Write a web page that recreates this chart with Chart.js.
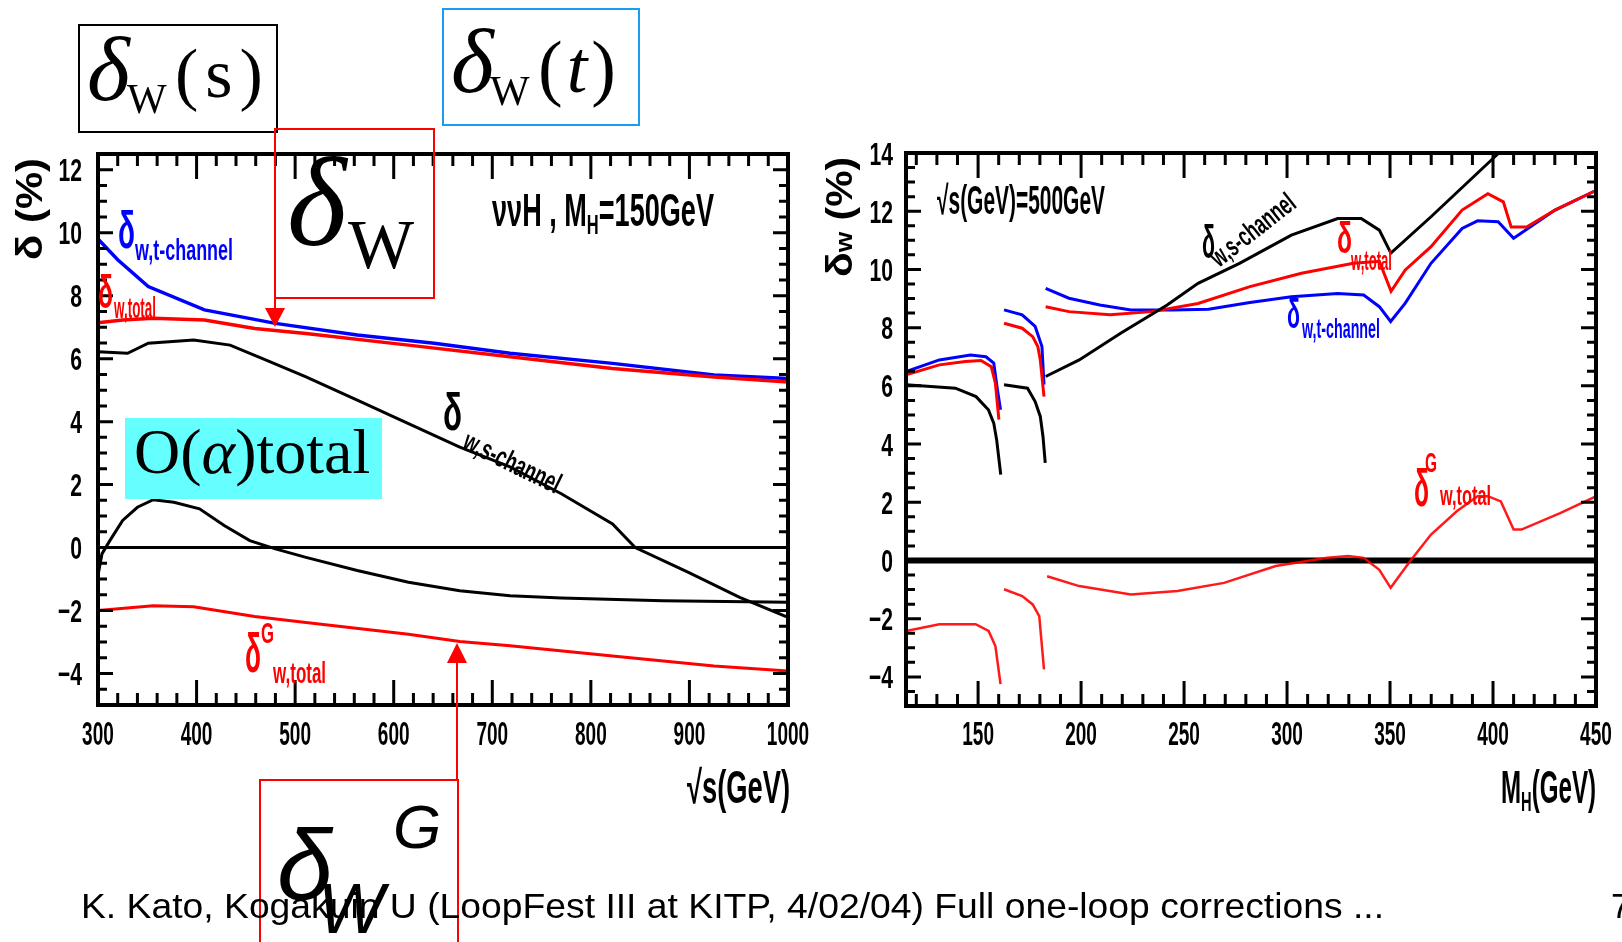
<!DOCTYPE html>
<html>
<head>
<meta charset="utf-8">
<title>delta_W corrections</title>
<script src="https://cdn.jsdelivr.net/npm/chart.js@4.4.1/dist/chart.umd.min.js"></script>
<style>
  html, body { margin: 0; padding: 0; background: #fff; }
  #slide { position: relative; width: 1622px; height: 942px; overflow: hidden; background: #fff; }
  #slide canvas { position: absolute; left: 0; top: 0; }
  .box { position: absolute; box-sizing: border-box; }
  .txt { position: absolute; white-space: nowrap; line-height: 1; color: #000; }
  .serif { font-family: "Liberation Serif", "Times New Roman", serif; }
  .sans { font-family: "Liberation Sans", Arial, sans-serif; }
  .tri-down { position: absolute; width: 0; height: 0; border-left: 10px solid transparent; border-right: 10px solid transparent; border-top: 19px solid #ff0000; }
  .tri-up { position: absolute; width: 0; height: 0; border-left: 10px solid transparent; border-right: 10px solid transparent; border-bottom: 20px solid #ff0000; }
</style>
</head>
<body>
<div id="slide">
  <canvas id="leftChart" width="1622" height="942"></canvas>
  <canvas id="rightChart" width="1622" height="942"></canvas>

  <div class="box" style="left:78px;top:24px;width:200px;height:109px;border:2px solid #000"></div>
  <div class="box" style="left:442px;top:8px;width:198px;height:118px;border:2px solid #1a9df0"></div>
  <div class="box" style="left:274px;top:128px;width:161px;height:171px;border:2px solid #ff0000"></div>
  <div class="box" style="left:274px;top:297px;width:2px;height:13px;background:#ff0000"></div>
  <div class="tri-down" style="left:265px;top:308px"></div>
  <div class="box" style="left:125px;top:418px;width:257px;height:81px;background:#66ffff"></div>
  <div class="box" style="left:259px;top:779px;width:200px;height:200px;border:2px solid #ff0000;border-bottom:none"></div>
  <div class="box" style="left:456px;top:660px;width:2px;height:120px;background:#ff0000"></div>
  <div class="tri-up" style="left:447px;top:643px"></div>
</div>

<script>
// left panel: nu nubar H, MH = 150 GeV, versus sqrt(s)
const leftXTicks = [300, 400, 500, 600, 700, 800, 900, 1000];
const leftYTicks = [-4, -2, 0, 2, 4, 6, 8, 10, 12];

const leftTchanX = [300, 320, 351, 408, 480, 563, 641, 718, 822, 925, 1000];
const leftTchanY = [9.8, 9.14, 8.29, 7.55, 7.12, 6.75, 6.49, 6.17, 5.85, 5.48, 5.37];

const leftTotalX = [300, 325, 356, 408, 459, 511, 615, 718, 822, 925, 1000];
const leftTotalY = [7.14, 7.23, 7.28, 7.23, 6.96, 6.80, 6.43, 6.06, 5.69, 5.42, 5.26];

const leftSchanX = [300, 330, 351, 397, 434, 470, 511, 563, 615, 667, 718, 770, 822, 845, 899, 951, 1000];
const leftSchanY = [6.22, 6.17, 6.49, 6.59, 6.43, 5.96, 5.42, 4.68, 3.94, 3.19, 2.56, 1.71, 0.75, 0.0, -0.79, -1.58, -2.22];

const leftAlphaX = [300, 304, 312, 325, 340, 356, 377, 403, 428, 454, 480, 511, 563, 615, 667, 718, 770, 873, 1000];
const leftAlphaY = [-0.89, -0.2, 0.22, 0.86, 1.28, 1.52, 1.44, 1.23, 0.70, 0.22, -0.04, -0.31, -0.73, -1.10, -1.37, -1.53, -1.60, -1.69, -1.74];

const leftGX = [300, 356, 397, 459, 511, 615, 667, 718, 822, 925, 1000];
const leftGY = [-2.0, -1.85, -1.88, -2.19, -2.38, -2.75, -2.98, -3.12, -3.44, -3.76, -3.92];

// right panel: sqrt(s) = 500 GeV, versus MH (null = gap at the thresholds)
const rightXTicks = [150, 200, 250, 300, 350, 400, 450];
const rightYTicks = [-4, -2, 0, 2, 4, 6, 8, 10, 12, 14];

const rightSchanX = [115, 139, 149, 155, 157.6, 159, 161, 161.8, 162.6, 174, 177.7, 180.2, 181.5, 182.6, 182.7, 182.8, 199.1, 219.2, 241.8, 256.8, 276.9, 302.1, 324.6, 336, 344.8, 350.4, 369.9, 400, 405];
const rightSchanY = [6.04, 5.92, 5.63, 5.18, 4.72, 4.15, 2.95, null, 6.04, 5.92, 5.46, 4.95, 4.26, 3.35, null, 6.32, 6.89, 7.81, 8.78, 9.52, 10.21, 11.18, 11.75, 11.75, 11.35, 10.56, 11.81, 13.81, 14.15];

const rightTotalX = [115, 131.2, 143.8, 151.4, 156.4, 158.4, 160.1, 161.3, 162.6, 171.4, 176.5, 179, 180.2, 182, 182.4, 182.8, 194.1, 214.1, 234.2, 256.8, 282, 307, 332.2, 344.8, 350.5, 357.4, 369.9, 385, 397.5, 405, 408.8, 416.3, 430.1, 450.2];
const rightTotalY = [6.38, 6.72, 6.84, 6.87, 6.66, 6.09, 4.84, null, 8.15, 7.98, 7.69, 7.35, 6.89, 5.63, null, 8.72, 8.55, 8.44, 8.55, 8.83, 9.41, 9.87, 10.21, 10.28, 9.25, 9.98, 10.78, 12.04, 12.6, 12.32, 11.46, 11.46, 12.04, 12.72];

const rightTchanX = [115, 131.2, 146.3, 153.8, 157.6, 159.4, 160.9, 161.7, 162.6, 171.4, 177.7, 181, 182, 182.4, 182.8, 194.1, 209.1, 224.2, 244.3, 261.9, 282, 302.1, 324.6, 337.2, 344.8, 350.3, 357.4, 369.9, 385, 392.5, 402.5, 410, 430.1, 450.2];
const rightTchanY = [6.49, 6.89, 7.06, 7.0, 6.78, 5.86, 5.18, null, 8.61, 8.44, 8.04, 7.35, 6.04, null, 9.35, 9.01, 8.78, 8.61, 8.61, 8.63, 8.86, 9.06, 9.17, 9.12, 8.72, 8.21, 8.84, 10.21, 11.41, 11.67, 11.64, 11.07, 12.04, 12.72];

const rightGX = [115, 131.2, 148.8, 155.1, 158.4, 160.9, 161.7, 162.6, 171.4, 176.5, 179.7, 182, 182.7, 183.5, 199.1, 224.2, 246.8, 269.4, 294.5, 319.6, 329.7, 337.2, 344.8, 350.3, 359.8, 369.9, 382.4, 392.5, 397.5, 403.8, 410, 413.8, 432.6, 450.2];
const rightGY = [-2.42, -2.19, -2.19, -2.42, -2.94, -4.25, null, -0.99, -1.22, -1.51, -1.91, -3.74, null, -0.54, -0.88, -1.17, -1.05, -0.77, -0.19, 0.09, 0.15, 0.09, -0.32, -0.94, -0.02, 0.89, 1.69, 2.21, 2.21, 2.03, 1.06, 1.06, 1.63, 2.21];

const BLUE = '#0000ff', RED = '#ff0000', BLACK = '#000000';
const FONT = '"Liberation Sans", Arial, sans-serif';

const toPoints = (xs, ys) => xs.map((x, i) => ({ x: x, y: ys[i] }));

// draw a run of text pieces [text, size, dy], squeezed sideways like the scanned plot lettering
function drawParts(ctx, parts, x, y, o) {
  o = o || {};
  ctx.save();
  let total = 0;
  const widths = parts.map(p => {
    ctx.font = 'bold ' + p[1] + 'px ' + FONT;
    const w = ctx.measureText(p[0]).width;
    total += w;
    return w;
  });
  const sx = o.width ? o.width / total : (o.sx || 1);
  ctx.translate(x, y);
  if (o.angle) ctx.rotate(o.angle * Math.PI / 180);
  if (o.align === 'right') ctx.translate(-total * sx, 0);
  if (o.align === 'center') ctx.translate(-total * sx / 2, 0);
  ctx.scale(sx, 1);
  ctx.fillStyle = o.color || BLACK;
  ctx.textAlign = 'left';
  ctx.textBaseline = 'alphabetic';
  let cx = 0;
  parts.forEach((p, i) => {
    ctx.font = 'bold ' + p[1] + 'px ' + FONT;
    ctx.fillText(p[0], cx, p[2] || 0);
    cx += widths[i];
  });
  ctx.restore();
}

function steps(min, max, step) {
  const out = [];
  for (let v = Math.ceil(min / step - 1e-9) * step; v <= max + 1e-9; v += step) out.push(Math.round(v * 1000) / 1000);
  return out;
}
const onStep = (v, s) => Math.abs(v / s - Math.round(v / s)) < 1e-6;

function framePlugin(o) {
  return {
    id: 'frame_' + o.name,
    beforeDatasetsDraw(chart) {
      const { ctx, chartArea: a, scales } = chart;
      const py = scales.y.getPixelForValue(0);
      ctx.save();
      ctx.strokeStyle = BLACK;
      ctx.lineWidth = o.zeroWidth;
      ctx.beginPath();
      ctx.moveTo(a.left, py);
      ctx.lineTo(a.right, py);
      ctx.stroke();
      ctx.restore();
    },
    afterDatasetsDraw(chart) {
      const { ctx, chartArea: a, scales } = chart;
      const xs = scales.x, ys = scales.y;
      ctx.save();
      ctx.strokeStyle = BLACK;
      ctx.lineWidth = 3;
      ctx.beginPath();
      steps(xs.min, xs.max, o.xMinor).forEach(v => {
        const px = xs.getPixelForValue(v);
        const len = onStep(v, o.xMajor) ? 25 : 12;
        ctx.moveTo(px, a.bottom); ctx.lineTo(px, a.bottom - len);
        ctx.moveTo(px, a.top); ctx.lineTo(px, a.top + len);
      });
      steps(ys.min, ys.max, o.yMinor).forEach(v => {
        const py = ys.getPixelForValue(v);
        const len = onStep(v, o.yMajor) ? 15 : 9;
        ctx.moveTo(a.left, py); ctx.lineTo(a.left + len, py);
        ctx.moveTo(a.right, py); ctx.lineTo(a.right - len, py);
      });
      ctx.stroke();
      ctx.lineWidth = 4;
      ctx.strokeRect(a.left, a.top, a.right - a.left, a.bottom - a.top);
      ctx.restore();

      o.xTicks.forEach(v => {
        drawParts(ctx, [[String(v), 34]], xs.getPixelForValue(v), 745, { align: 'center', sx: 0.56 });
      });
      o.yTicks.forEach(v => {
        const t = v < 0 ? '\u2212' + Math.abs(v) : String(v);
        drawParts(ctx, [[t, 32]], o.yLabelRight, ys.getPixelForValue(v) + 11.5, { align: 'right', sx: 0.66 });
      });
      o.labels.forEach(l => drawParts(ctx, l.parts, l.x, l.y, l));
    }
  };
}

function makeChart(id, o) {
  return new Chart(document.getElementById(id), {
    type: 'line',
    data: {
      datasets: o.series.map(s => ({
        data: toPoints(s.x, s.y),
        borderColor: s.color,
        borderWidth: s.width,
        pointRadius: 0,
        tension: 0,
        spanGaps: false,
        fill: false
      }))
    },
    options: {
      responsive: false,
      animation: false,
      events: [],
      layout: { padding: { left: 0, top: o.top, right: o.right, bottom: 0 } },
      plugins: { legend: { display: false }, tooltip: { enabled: false } },
      scales: {
        x: {
          type: 'linear', min: o.xMin, max: o.xMax,
          ticks: { display: false }, grid: { display: false }, border: { display: false },
          afterFit: s => { s.height = o.bottomH; }
        },
        y: {
          type: 'linear', min: o.yMin, max: o.yMax,
          ticks: { display: false }, grid: { display: false }, border: { display: false },
          afterFit: s => { s.width = o.leftW; }
        }
      }
    },
    plugins: [framePlugin(o)]
  });
}

makeChart('leftChart', {
  name: 'left', xMin: 300, xMax: 1000, yMin: -5, yMax: 12.5,
  top: 154, right: 1622 - 788, bottomH: 942 - 705, leftW: 98,
  xMinor: 20, xMajor: 100, yMinor: 0.5, yMajor: 2, zeroWidth: 3,
  xTicks: leftXTicks, yTicks: leftYTicks, yLabelRight: 82,
  series: [
    { x: leftSchanX, y: leftSchanY, color: BLACK, width: 3 },
    { x: leftAlphaX, y: leftAlphaY, color: BLACK, width: 3 },
    { x: leftGX, y: leftGY, color: RED, width: 3 },
    { x: leftTotalX, y: leftTotalY, color: RED, width: 3.5 },
    { x: leftTchanX, y: leftTchanY, color: BLUE, width: 3.5 }
  ],
  labels: [
    { parts: [['\u03bd\u03bdH , M', 46], ['H', 28, 8], ['=150GeV', 46]], x: 492, y: 226, width: 222 },
    { parts: [['\u03b4', 52]], x: 118, y: 248, width: 17, color: BLUE },
    { parts: [['w,t-channel', 29]], x: 135, y: 260, width: 98, color: BLUE },
    { parts: [['\u03b4', 46]], x: 98, y: 308, width: 15, color: RED },
    { parts: [['w,total', 29]], x: 114, y: 318, width: 42, color: RED },
    { parts: [['\u03b4', 52]], x: 443, y: 430, width: 19 },
    { parts: [['w,s-channel', 29]], x: 461, y: 448, width: 105, angle: 26 },
    { parts: [['\u03b4', 56]], x: 245, y: 672, width: 16, color: RED },
    { parts: [['G', 30]], x: 261, y: 643, width: 13, color: RED },
    { parts: [['w,total', 29]], x: 273, y: 683, width: 53, color: RED },
    { parts: [['\u221as(GeV)', 46]], x: 790, y: 803, width: 103, align: 'right' },
    { parts: [['\u03b4 (%)', 37]], x: 42, y: 260, width: 102, angle: -90 }
  ]
});

makeChart('rightChart', {
  name: 'right', xMin: 115, xMax: 450, yMin: -5, yMax: 14,
  top: 153, right: 1622 - 1596, bottomH: 942 - 706, leftW: 906,
  xMinor: 10, xMajor: 50, yMinor: 0.5, yMajor: 2, zeroWidth: 6,
  xTicks: rightXTicks, yTicks: rightYTicks, yLabelRight: 893,
  series: [
    { x: rightSchanX, y: rightSchanY, color: BLACK, width: 3 },
    { x: rightGX, y: rightGY, color: 'rgba(255,0,0,0.9)', width: 2.5 },
    { x: rightTotalX, y: rightTotalY, color: RED, width: 3 },
    { x: rightTchanX, y: rightTchanY, color: BLUE, width: 3 }
  ],
  labels: [
    { parts: [['\u221as(GeV)=500GeV', 40]], x: 937, y: 214, width: 168 },
    { parts: [['\u03b4', 46]], x: 1202, y: 258, width: 13 },
    { parts: [['w,s-channel', 28]], x: 1219, y: 268, width: 100, angle: -38 },
    { parts: [['\u03b4', 44]], x: 1337, y: 253, width: 15, color: RED },
    { parts: [['w,total', 28]], x: 1351, y: 270, width: 41, color: RED },
    { parts: [['\u03b4', 40]], x: 1287, y: 328, width: 13, color: BLUE },
    { parts: [['w,t-channel', 28]], x: 1302, y: 338, width: 78, color: BLUE },
    { parts: [['\u03b4', 52]], x: 1414, y: 506, width: 15, color: RED },
    { parts: [['G', 28]], x: 1425, y: 472, width: 12, color: RED },
    { parts: [['w,total', 28]], x: 1440, y: 505, width: 51, color: RED },
    { parts: [['M', 46], ['H', 28, 8], ['(GeV)', 46]], x: 1596, y: 803, width: 95, align: 'right' },
    { parts: [['\u03b4', 37], ['w', 24], [' (%)', 37]], x: 852, y: 277, width: 120, angle: -90 }
  ]
});

// slide annotations: [family, style, size, left, baseline, html, extra css]
const slideTexts = [
  ['serif', 'italic', 92, 87, 100, '\u03b4'],
  ['serif', 'normal', 42, 127, 113, 'W'],
  ['serif', 'normal', 70, 175, 98, '(s)', 'letter-spacing:7px'],
  ['serif', 'italic', 92, 451, 92, '\u03b4'],
  ['serif', 'normal', 42, 490, 105, 'W'],
  ['serif', 'normal', 74, 538, 92, '(<i>t</i>)', 'letter-spacing:4px'],
  ['serif', 'italic', 128, 287, 245, '\u03b4'],
  ['serif', 'normal', 70, 348, 269, 'W'],
  ['serif', 'normal', 64, 134, 474, 'O(<i>\u03b1</i>)total'],
  ['sans', 'normal', 35, 81, 918, 'K. Kato, Kogakuin U (LoopFest III at KITP, 4/02/04) Full one-loop corrections ...', '', 'footer'],
  ['sans', 'normal', 35, 1611, 918, '7'],
  ['sans', 'italic', 100, 277, 900, '\u03b4'],
  ['sans', 'italic', 70, 318, 933, 'W'],
  ['sans', 'italic', 62, 393, 848, 'G']
];

const slide = document.getElementById('slide');
slideTexts.forEach(t => {
  const el = document.createElement('div');
  el.className = 'txt ' + t[0];
  const k = t[0] === 'serif' ? 0.8375 : 0.8465;
  el.style.cssText = 'left:' + t[3] + 'px;top:' + (t[4] - k * t[2]) + 'px;font-size:' + t[2] + 'px;font-style:' + t[1] + ';' + (t[6] || '');
  el.innerHTML = t[5];
  if (t[7]) el.id = t[7];
  slide.appendChild(el);
});

const footer = document.getElementById('footer');
const fw = footer.getBoundingClientRect().width;
footer.style.transformOrigin = 'left top';
footer.style.transform = 'scaleX(' + (1303 / fw) + ')';
</script>
</body>
</html>
